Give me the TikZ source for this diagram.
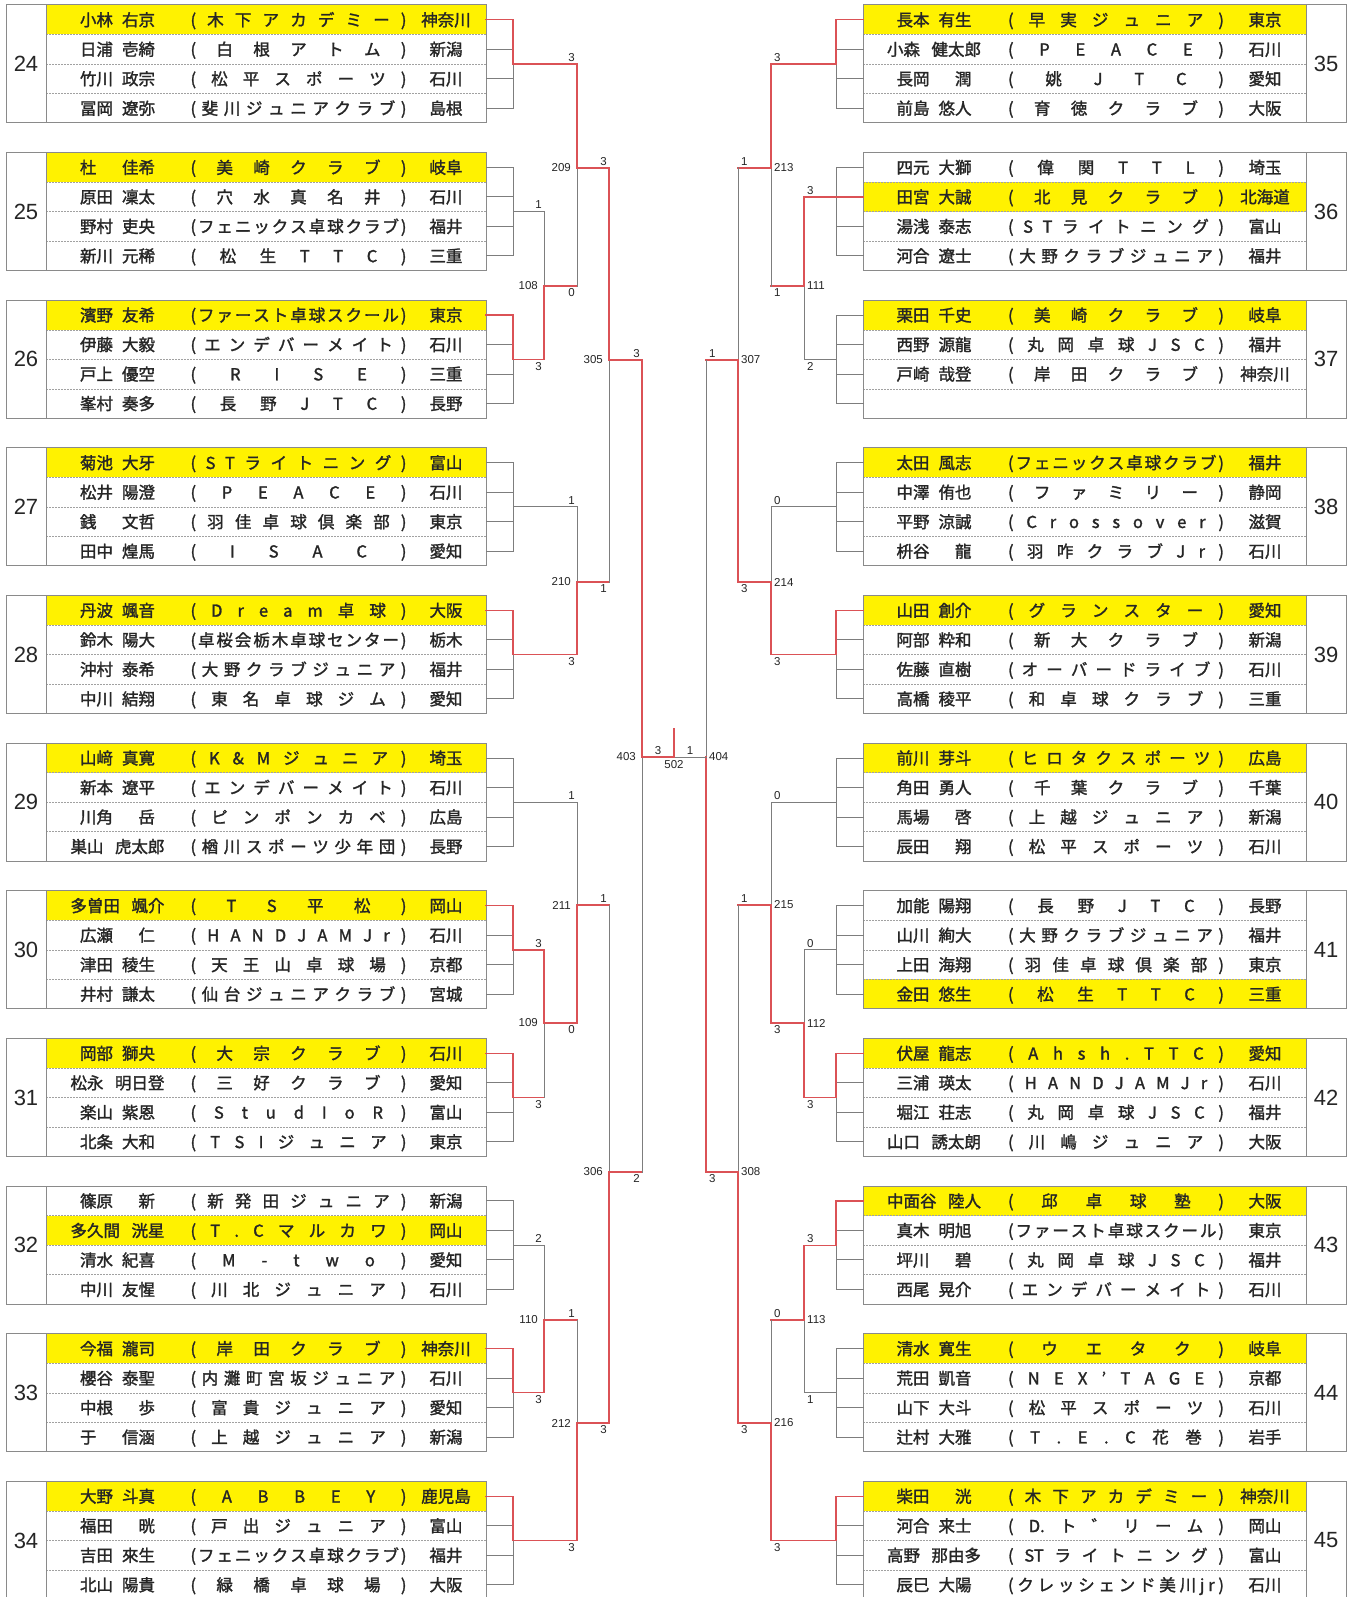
\documentclass[tikz,border=0pt]{standalone}
\usepackage{fontspec}
\setmainfont{Noto Sans CJK JP}[UprightFeatures={FakeBold=1.6}]
\newfontfamily\numfont{Liberation Sans}
\definecolor{winred}{HTML}{DB5256}
\definecolor{linegray}{HTML}{7D7D7D}
\definecolor{framegray}{HTML}{8A8A8A}
\definecolor{winyellow}{HTML}{FFF200}
\definecolor{inkblack}{HTML}{262626}
\tikzset{
  grpframe/.style={draw=framegray, line width=1pt},
  rowsep/.style={draw=framegray!80, line width=0.6pt, dash pattern=on 2pt off 1pt},
  winfill/.style={fill=winyellow},
  lose/.style={draw=linegray, line width=1pt, line cap=rect},
  win/.style={draw=winred, line width=1.25pt, line cap=rect},
  cell/.style={inner sep=0pt, text=inkblack, font=\fontsize{16.5}{18}\selectfont,
               text height=12.6pt, text depth=0pt},
  grpno/.style={inner sep=0pt, text=inkblack, font=\numfont\fontsize{22}{24}\selectfont},
  mno/.style={inner sep=0pt, text=inkblack, font=\numfont\fontsize{11.5}{13}\selectfont},
  score/.style={mno}
}
% club names: characters spread evenly between the brackets
\def\spreadend{spreadendmarker}
\def\spreadA#1{\ifx\spreadend#1\else\hfill{#1}\expandafter\spreadA\fi}
\newcommand{\club}[1]{\makebox[216pt]{(\spreadA#1\spreadend\hfill)}}
% groups: #1 number, #2 index from top, #3 winner row
\newcommand{\grpL}[3]{%
  \pgfmathsetmacro\gtop{5+147.65*#2}
  \expandafter\xdef\csname gt#1\endcsname{\gtop}
  \fill[winfill] (46,\gtop+29.5*#3-29.5) rectangle (486,\gtop+29.5*#3);
  \foreach \k in {1,2,3} \draw[rowsep] (46,\gtop+29.5*\k) -- (486,\gtop+29.5*\k);
  \draw[grpframe] (6,\gtop) rectangle (486,\gtop+118);
  \draw[grpframe] (46,\gtop) -- (46,\gtop+118);
  \node[grpno] (no#1) at (26,\gtop+59) {#1};
  \foreach \k in {1,...,4} {
    \coordinate (g#1r\k) at (486,\gtop+29.5*\k-14.75);
    \draw[lose] (g#1r\k) -- ++(27,0);
  }
  \coordinate (g#1) at (513,\gtop+59);
  \draw[lose] (g#1r1 -| g#1) -- (g#1r4 -| g#1);
}
\newcommand{\grpR}[3]{%
  \pgfmathsetmacro\gtop{5+147.65*#2}
  \expandafter\xdef\csname gt#1\endcsname{\gtop}
  \fill[winfill] (863,\gtop+29.5*#3-29.5) rectangle (1306,\gtop+29.5*#3);
  \foreach \k in {1,2,3} \draw[rowsep] (863,\gtop+29.5*\k) -- (1306,\gtop+29.5*\k);
  \draw[grpframe] (863,\gtop) rectangle (1346,\gtop+118);
  \draw[grpframe] (1306,\gtop) -- (1306,\gtop+118);
  \node[grpno] (no#1) at (1326,\gtop+59) {#1};
  \foreach \k in {1,...,4} {
    \coordinate (g#1r\k) at (863,\gtop+29.5*\k-14.75);
    \draw[lose] (g#1r\k) -- ++(-27,0);
  }
  \coordinate (g#1) at (836,\gtop+59);
  \draw[lose] (g#1r1 -| g#1) -- (g#1r4 -| g#1);
}
% player rows: [name width] group, row, family, given, club, prefecture
\newcommand{\rowL}[7][75pt]{%
  \pgfmathsetmacro\ry{\csname gt#2\endcsname+29.5*#3-14.75}
  \node[cell] (nm#2-#3) at (117.5,\ry) {\makebox[#1]{#4\hfill#5}};
  \node[cell] (cl#2-#3) at (298.5,\ry) {\club{#6}};
  \node[cell] (pf#2-#3) at (446,\ry) {#7};
}
\newcommand{\rowR}[7][75pt]{%
  \pgfmathsetmacro\ry{\csname gt#2\endcsname+29.5*#3-14.75}
  \node[cell] (nm#2-#3) at (934,\ry) {\makebox[#1]{#4\hfill#5}};
  \node[cell] (cl#2-#3) at (1116,\ry) {\club{#6}};
  \node[cell] (pf#2-#3) at (1265,\ry) {#7};
}
% matches: number, x of the upright, y top, y bottom, y out, top score, bottom score
\newcommand{\mtL}[7]{%
  \coordinate (m#1) at (#2,#5);
  \node[mno, anchor=east] (n#1) at (#2-6,#5) {#1};
  \node[score, anchor=south east] (st#1) at (#2-2,#3-2.5) {#6};
  \node[score, anchor=north east] (sb#1) at (#2-2,#4+2.5) {#7};
}
\newcommand{\mtR}[7]{%
  \coordinate (m#1) at (#2,#5);
  \node[mno, anchor=west] (n#1) at (#2+3,#5) {#1};
  \node[score, anchor=south west] (st#1) at (#2+3,#3-2.5) {#6};
  \node[score, anchor=north west] (sb#1) at (#2+3,#4+2.5) {#7};
}
\newcommand{\feed}[4]{%
  \draw[#3] (#1) -- (#1 -| #2);
  \draw[#4] (#1 -| #2) -- (#2);
}
\newcommand{\grpwin}[2]{\draw[win] (g#1r#2) -- (g#1r#2 -| g#1) -- (g#1);}

\begin{document}
\begin{tikzpicture}[x=1pt,y=-1pt]
\useasboundingbox[fill=white] (0,0) rectangle (1354,1597);

% left block
\grpL{24}{0}{1}
\rowL{24}{1}{小林}{右京}{木下アカデミー}{神奈川}
\rowL{24}{2}{日浦}{壱綺}{白根アトム}{新潟}
\rowL{24}{3}{竹川}{政宗}{松平スポーツ}{石川}
\rowL{24}{4}{冨岡}{遼弥}{斐川ジュニアクラブ}{島根}
\grpL{25}{1}{1}
\rowL{25}{1}{杜}{佳希}{美崎クラブ}{岐阜}
\rowL{25}{2}{原田}{凜太}{穴水真名井}{石川}
\rowL{25}{3}{野村}{吏央}{フェニックス卓球クラブ}{福井}
\rowL{25}{4}{新川}{元稀}{松生TTC}{三重}
\grpL{26}{2}{1}
\rowL{26}{1}{濱野}{友希}{ファースト卓球スクール}{東京}
\rowL{26}{2}{伊藤}{大毅}{エンデバーメイト}{石川}
\rowL{26}{3}{戸上}{優空}{RISE}{三重}
\rowL{26}{4}{峯村}{奏多}{長野JTC}{長野}
\grpL{27}{3}{1}
\rowL{27}{1}{菊池}{大牙}{STライトニング}{富山}
\rowL{27}{2}{松井}{陽澄}{PEACE}{石川}
\rowL{27}{3}{銭}{文哲}{羽佳卓球倶楽部}{東京}
\rowL{27}{4}{田中}{煌馬}{ISAC}{愛知}
\grpL{28}{4}{1}
\rowL{28}{1}{丹波}{颯音}{Dream卓球}{大阪}
\rowL{28}{2}{鈴木}{陽大}{卓桜会栃木卓球センター}{栃木}
\rowL{28}{3}{沖村}{泰希}{大野クラブジュニア}{福井}
\rowL{28}{4}{中川}{結翔}{東名卓球ジム}{愛知}
\grpL{29}{5}{1}
\rowL{29}{1}{山﨑}{真寛}{K\&Mジュニア}{埼玉}
\rowL{29}{2}{新本}{遼平}{エンデバーメイト}{石川}
\rowL{29}{3}{川角}{岳}{ピンポンカベ}{広島}
\rowL[94pt]{29}{4}{巣山}{虎太郎}{楢川スポーツ少年団}{長野}
\grpL{30}{6}{1}
\rowL[94pt]{30}{1}{多曽田}{颯介}{TS平松}{岡山}
\rowL{30}{2}{広瀬}{仁}{HANDJAMJr}{石川}
\rowL{30}{3}{津田}{稜生}{天王山卓球場}{京都}
\rowL{30}{4}{井村}{謙太}{仙台ジュニアクラブ}{宮城}
\grpL{31}{7}{1}
\rowL{31}{1}{岡部}{獅央}{大宗クラブ}{石川}
\rowL[94pt]{31}{2}{松永}{明日登}{三好クラブ}{愛知}
\rowL{31}{3}{楽山}{紫恩}{StudIoR}{富山}
\rowL{31}{4}{北条}{大和}{TSIジュニア}{東京}
\grpL{32}{8}{2}
\rowL{32}{1}{篠原}{新}{新発田ジュニア}{新潟}
\rowL[94pt]{32}{2}{多久間}{洸星}{T.Cマルカワ}{岡山}
\rowL{32}{3}{清水}{紀喜}{M-two}{愛知}
\rowL{32}{4}{中川}{友惺}{川北ジュニア}{石川}
\grpL{33}{9}{1}
\rowL{33}{1}{今福}{瀧司}{岸田クラブ}{神奈川}
\rowL{33}{2}{櫻谷}{泰聖}{内灘町宮坂ジュニア}{石川}
\rowL{33}{3}{中根}{歩}{富貴ジュニア}{愛知}
\rowL{33}{4}{于}{信涵}{上越ジュニア}{新潟}
\grpL{34}{10}{1}
\rowL{34}{1}{大野}{斗真}{ABBEY}{鹿児島}
\rowL{34}{2}{福田}{晄}{戸出ジュニア}{富山}
\rowL{34}{3}{吉田}{來生}{フェニックス卓球クラブ}{福井}
\rowL{34}{4}{北山}{陽貴}{緑橋卓球場}{大阪}

% right block
\grpR{35}{0}{1}
\rowR{35}{1}{長本}{有生}{早実ジュニア}{東京}
\rowR[94pt]{35}{2}{小森}{健太郎}{PEACE}{石川}
\rowR{35}{3}{長岡}{潤}{姚JTC}{愛知}
\rowR{35}{4}{前島}{悠人}{育徳クラブ}{大阪}
\grpR{36}{1}{2}
\coordinate (g36) at (g36r2 -| g36);
\rowR{36}{1}{四元}{大獅}{偉関TTL}{埼玉}
\rowR{36}{2}{田宮}{大誠}{北見クラブ}{北海道}
\rowR{36}{3}{湯浅}{泰志}{STライトニング}{富山}
\rowR{36}{4}{河合}{遼士}{大野クラブジュニア}{福井}
\grpR{37}{2}{1}
\rowR{37}{1}{栗田}{千史}{美崎クラブ}{岐阜}
\rowR{37}{2}{西野}{源龍}{丸岡卓球JSC}{福井}
\rowR{37}{3}{戸崎}{哉登}{岸田クラブ}{神奈川}
\grpR{38}{3}{1}
\rowR{38}{1}{太田}{風志}{フェニックス卓球クラブ}{福井}
\rowR{38}{2}{中澤}{侑也}{ファミリー}{静岡}
\rowR{38}{3}{平野}{涼誠}{Crossover}{滋賀}
\rowR{38}{4}{枡谷}{龍}{羽咋クラブJr}{石川}
\grpR{39}{4}{1}
\rowR{39}{1}{山田}{創介}{グランスター}{愛知}
\rowR{39}{2}{阿部}{粋和}{新大クラブ}{新潟}
\rowR{39}{3}{佐藤}{直樹}{オーバードライブ}{石川}
\rowR{39}{4}{高橋}{稜平}{和卓球クラブ}{三重}
\grpR{40}{5}{1}
\rowR{40}{1}{前川}{芽斗}{ヒロタクスポーツ}{広島}
\rowR{40}{2}{角田}{勇人}{千葉クラブ}{千葉}
\rowR{40}{3}{馬場}{啓}{上越ジュニア}{新潟}
\rowR{40}{4}{辰田}{翔}{松平スポーツ}{石川}
\grpR{41}{6}{4}
\rowR{41}{1}{加能}{陽翔}{長野JTC}{長野}
\rowR{41}{2}{山川}{絢大}{大野クラブジュニア}{福井}
\rowR{41}{3}{上田}{海翔}{羽佳卓球倶楽部}{東京}
\rowR{41}{4}{金田}{悠生}{松生TTC}{三重}
\grpR{42}{7}{1}
\rowR{42}{1}{伏屋}{龍志}{Ahsh.TTC}{愛知}
\rowR{42}{2}{三浦}{瑛太}{HANDJAMJr}{石川}
\rowR{42}{3}{堀江}{荘志}{丸岡卓球JSC}{福井}
\rowR[94pt]{42}{4}{山口}{誘太朗}{川嶋ジュニア}{大阪}
\grpR{43}{8}{1}
\rowR[94pt]{43}{1}{中面谷}{陸人}{邱卓球塾}{大阪}
\rowR{43}{2}{真木}{明旭}{ファースト卓球スクール}{東京}
\rowR{43}{3}{坪川}{碧}{丸岡卓球JSC}{福井}
\rowR{43}{4}{西尾}{晃介}{エンデバーメイト}{石川}
\grpR{44}{9}{1}
\rowR{44}{1}{清水}{寛生}{ウエタク}{岐阜}
\rowR{44}{2}{荒田}{凱音}{NEX'TAGE}{京都}
\rowR{44}{3}{山下}{大斗}{松平スポーツ}{石川}
\rowR{44}{4}{辻村}{大雅}{T.E.C花巻}{岩手}
\grpR{45}{10}{1}
\rowR{45}{1}{柴田}{洸}{木下アカデミー}{神奈川}
\rowR{45}{2}{河合}{来士}{{D.}ト゛リーム}{岡山}
\rowR[94pt]{45}{3}{高野}{那由多}{{ST}ライトニング}{富山}
\rowR{45}{4}{辰巳}{大陽}{クレッシェンド美川jr}{石川}

% left bracket
\mtL{108}{544}{211.65}{359.3}{286}{1}{3}
\mtL{109}{544}{949.9}{1097.6}{1023}{3}{3}
\mtL{110}{544}{1245.2}{1392.9}{1320}{2}{3}
\mtL{209}{577}{64}{286}{168}{3}{0}
\mtL{210}{577}{507}{654.6}{582}{1}{3}
\mtL{211}{577}{802.25}{1023}{905}{1}{0}
\mtL{212}{577}{1320}{1540.5}{1423}{1}{3}
\mtL{305}{609}{168}{582}{360}{3}{1}
\mtL{306}{609}{905}{1423}{1172}{1}{3}
\mtL{403}{642}{360}{1172}{757}{3}{2}

\feed{g25}{m108}{lose}{lose}
\feed{g26}{m108}{win}{win}
\feed{g24}{m209}{win}{win}
\feed{m108}{m209}{win}{lose}
\feed{g27}{m210}{lose}{lose}
\feed{g28}{m210}{win}{win}
\feed{m209}{m305}{win}{win}
\feed{m210}{m305}{win}{lose}
\feed{m305}{m403}{win}{win}
\feed{g30}{m109}{win}{win}
\feed{g31}{m109}{win}{lose}
\feed{g29}{m211}{lose}{lose}
\feed{m109}{m211}{win}{win}
\feed{g32}{m110}{lose}{lose}
\feed{g33}{m110}{win}{win}
\feed{m110}{m212}{win}{lose}
\feed{g34}{m212}{win}{win}
\feed{m211}{m306}{win}{lose}
\feed{m212}{m306}{win}{win}
\feed{m306}{m403}{win}{lose}
\grpwin{24}{1}
\grpwin{26}{1}
\grpwin{28}{1}
\grpwin{30}{1}
\grpwin{31}{1}
\grpwin{33}{1}
\grpwin{34}{1}

% right bracket
\mtR{111}{804}{196.9}{359.3}{286}{3}{2}
\mtR{112}{804}{949.9}{1097.6}{1023}{0}{3}
\mtR{113}{804}{1245.2}{1392.9}{1320}{3}{1}
\mtR{213}{771}{64}{286}{168}{3}{1}
\mtR{214}{771}{507}{654.6}{582}{0}{3}
\mtR{215}{771}{802.25}{1023}{905}{0}{3}
\mtR{216}{771}{1320}{1540.5}{1423}{0}{3}
\mtR{307}{738}{168}{582}{360}{1}{3}
\mtR{308}{738}{905}{1423}{1172}{1}{3}
\mtR{404}{706}{360}{1172}{757}{1}{3}

\feed{g36}{m111}{win}{win}
\feed{g37}{m111}{lose}{lose}
\feed{g35}{m213}{win}{win}
\feed{m111}{m213}{win}{lose}
\feed{g38}{m214}{lose}{lose}
\feed{g39}{m214}{win}{win}
\feed{m213}{m307}{win}{lose}
\feed{m214}{m307}{win}{win}
\feed{m307}{m404}{win}{lose}
\feed{g41}{m112}{lose}{lose}
\feed{g42}{m112}{win}{win}
\feed{g40}{m215}{lose}{lose}
\feed{m112}{m215}{win}{win}
\feed{g43}{m113}{win}{win}
\feed{g44}{m113}{lose}{lose}
\feed{m113}{m216}{win}{lose}
\feed{g45}{m216}{win}{win}
\feed{m215}{m308}{win}{lose}
\feed{m216}{m308}{win}{win}
\feed{m308}{m404}{win}{win}
\grpwin{35}{1}
\grpwin{36}{2}
\grpwin{39}{1}
\grpwin{42}{1}
\grpwin{43}{1}
\grpwin{45}{1}

% final
\coordinate (m502) at (674,757);
\coordinate (c502) at (674,729);
\draw[lose] (m502) -- (m404);
\draw[win] (m403) -- (m502) -- (c502);
\node[score, anchor=south] (sf403) at (658,754.5) {3};
\node[score, anchor=south] (sf404) at (690,754.5) {1};
\node[mno, anchor=north] (n502) at (674,760) {502};
\end{tikzpicture}
\end{document}
